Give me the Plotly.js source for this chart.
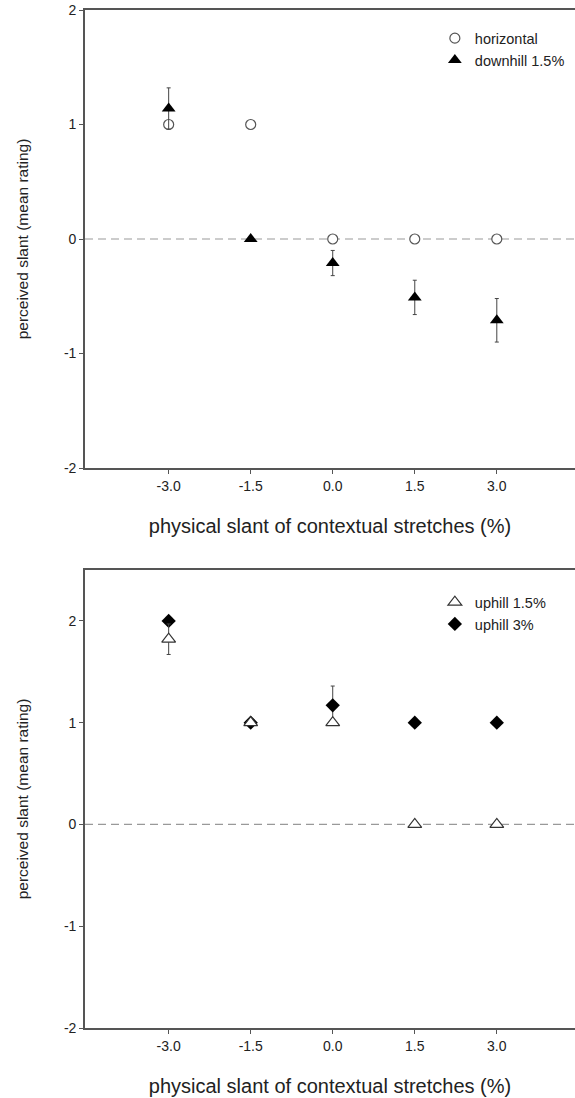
<!DOCTYPE html>
<html>
<head>
<meta charset="utf-8">
<script src="https://cdn.plot.ly/plotly-3.0.1.min.js"></script>
<style>
  html, body { margin: 0; padding: 0; background: #fff; }
  #chart { width: 575px; height: 1098px; }
</style>
</head>
<body>
<div id="chart"></div>
<script>
// ---- data ----
const slantX = [-3, -1.5, 0, 1.5, 3];
const xTickLabels = ['-3.0', '-1.5', '0.0', '1.5', '3.0'];

// top panel
const horizontal = [1, 1, 0, 0, 0];
const downhill15 = [1.14, 0, -0.21, -0.51, -0.71];
const downhill15Err = [0.18, 0, 0.11, 0.15, 0.19];

// bottom panel
const uphill15 = [1.82, 1, 1, 0, 0];
const uphill15Err = [0.15, 0, 0, 0, 0];
const uphill3 = [2, 1, 1.17, 1, 1];
const uphill3Err = [0, 0, 0.19, 0, 0];

const topYTicks = [-2, -1, 0, 1, 2];
const botYTicks = [-2, -1, 0, 1, 2];

// ---- styling ----
const FONT = 'Liberation Sans, Arial, Helvetica, sans-serif';
const TXT = '#222';
const AXC = '#555';
const ERRC = '#444';

const errStyle = arr => ({ type: 'data', array: arr, visible: true, color: ERRC, thickness: 1, width: 2 });

const traces = [
  {
    x: slantX, y: horizontal, xaxis: 'x', yaxis: 'y', name: 'horizontal',
    mode: 'markers', type: 'scatter', legend: 'legend', legendrank: 1,
    marker: { symbol: 'circle', size: 10, color: '#fff', line: { color: '#555', width: 1.2 } }
  },
  {
    x: slantX, y: downhill15, xaxis: 'x', yaxis: 'y', name: 'downhill 1.5%',
    mode: 'markers', type: 'scatter', legend: 'legend', legendrank: 2,
    error_y: errStyle(downhill15Err),
    marker: { symbol: 'triangle-up', size: 12, color: '#000', line: { width: 0 } }
  },
  {
    x: slantX, y: uphill3, xaxis: 'x2', yaxis: 'y2', name: 'uphill 3%',
    mode: 'markers', type: 'scatter', legend: 'legend2', legendrank: 2,
    error_y: errStyle(uphill3Err),
    marker: { symbol: 'diamond', size: 11, color: '#000', line: { width: 0 } }
  },
  {
    x: slantX, y: uphill15, xaxis: 'x2', yaxis: 'y2', name: 'uphill 1.5%',
    mode: 'markers', type: 'scatter', legend: 'legend2', legendrank: 1,
    error_y: errStyle(uphill15Err),
    marker: { symbol: 'triangle-up', size: 12, color: '#fff', line: { color: '#333', width: 1.2 } }
  }
];

const xAxisBase = (anchor) => ({
  anchor: anchor,
  range: [-4.53, 4.43],
  tickmode: 'array', tickvals: slantX, ticktext: xTickLabels,
  ticks: 'outside', ticklen: 4, tickwidth: 1, tickcolor: AXC,
  showline: true, linecolor: AXC, linewidth: 1.8, mirror: true,
  showgrid: false, zeroline: false,
  tickfont: { family: FONT, size: 14, color: TXT },
  title: { text: 'physical slant of contextual stretches (%)', font: { family: FONT, size: 20, color: TXT }, standoff: 26 }
});

const yAxisBase = (anchor, range, ticks, domain) => ({
  anchor: anchor, domain: domain, range: range,
  tickmode: 'array', tickvals: ticks, ticktext: ticks.map(String),
  ticks: 'outside', ticklen: 4, tickwidth: 1, tickcolor: AXC,
  showline: true, linecolor: AXC, linewidth: 1.8, mirror: false,
  showgrid: false, zeroline: false,
  tickfont: { family: FONT, size: 14, color: TXT },
  title: { text: 'perceived slant (mean rating)', font: { family: FONT, size: 15.5, color: TXT }, standoff: 31 }
});

const legendBase = (y) => ({
  x: 0.714, y: y, xanchor: 'left', yanchor: 'top',
  bgcolor: 'rgba(0,0,0,0)', borderwidth: 0,
  font: { family: FONT, size: 14.5, color: TXT },
  itemwidth: 30, tracegroupgap: 0, traceorder: 'normal'
});

const layout = {
  width: 575, height: 1098,
  margin: { l: 85, r: 0, t: 10, b: 70 },
  paper_bgcolor: '#fff', plot_bgcolor: '#fff',
  font: { family: FONT, color: TXT },
  showlegend: true,
  xaxis: xAxisBase('y'),
  yaxis: yAxisBase('x', [-2, 2], topYTicks, [0.5501, 1]),
  xaxis2: xAxisBase('y2'),
  yaxis2: yAxisBase('x2', [-2, 2.5], botYTicks, [0, 0.4499]),
  legend: legendBase(0.988),
  legend2: legendBase(0.434),
  shapes: [
    { type: 'line', xref: 'x domain', yref: 'y', x0: 0, x1: 1, y0: 0, y1: 0, layer: 'below',
      line: { color: '#999', width: 1.2, dash: '8px,5px' } },
    { type: 'line', xref: 'x2 domain', yref: 'y2', x0: 0, x1: 1, y0: 0, y1: 0, layer: 'below',
      line: { color: '#999', width: 1.2, dash: '8px,5px' } }
  ]
};

Plotly.newPlot('chart', traces, layout, { staticPlot: true, displayModeBar: false });
</script>
</body>
</html>
